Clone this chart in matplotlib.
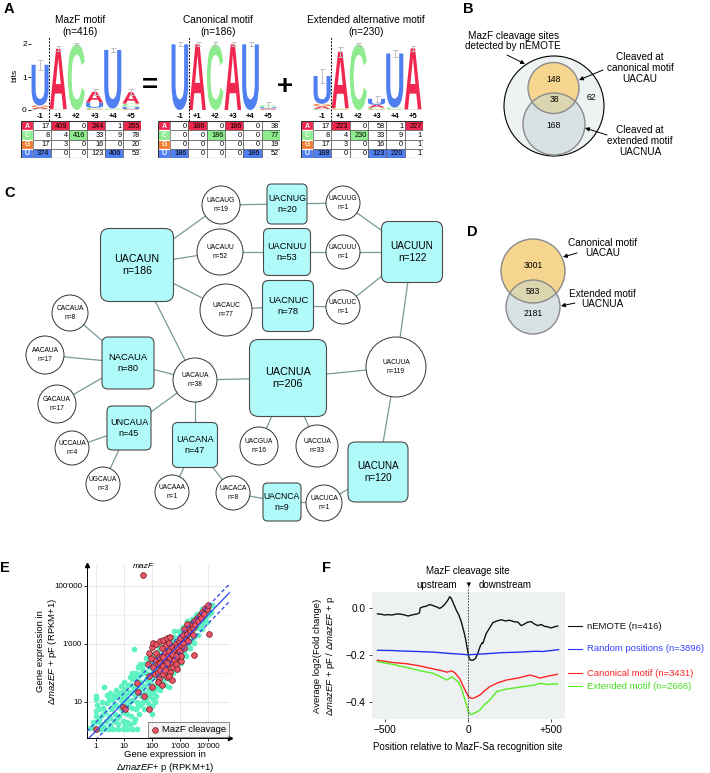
import numpy as np
import matplotlib
matplotlib.use('Agg')
import matplotlib.pyplot as plt
from matplotlib.patches import Rectangle, Circle, FancyBboxPatch, PathPatch
from matplotlib.textpath import TextPath
from matplotlib.font_manager import FontProperties
from matplotlib.transforms import Affine2D, blended_transform_factory
from matplotlib.ticker import NullLocator, NullFormatter

plt.rcParams['font.family'] = ['Liberation Sans', 'DejaVu Sans']
plt.rcParams['mathtext.fontset'] = 'custom'
plt.rcParams['mathtext.rm'] = 'Liberation Sans'
plt.rcParams['mathtext.it'] = 'Liberation Sans:italic'

# ---------------- A: motif count tables ----------------
bases = ['A', 'C', 'G', 'U']
positions = ['-1', '+1', '+2', '+3', '+4', '+5']

mazf_counts = [[17, 409, 0, 244, 1, 265],
               [8, 4, 416, 33, 9, 78],
               [17, 3, 0, 16, 0, 20],
               [374, 0, 0, 123, 406, 53]]
canon_counts = [[0, 186, 0, 186, 0, 38],
                [0, 0, 186, 0, 0, 77],
                [0, 0, 0, 0, 0, 19],
                [186, 0, 0, 0, 186, 52]]
ext_counts = [[17, 223, 0, 58, 1, 227],
              [8, 4, 230, 33, 9, 1],
              [17, 3, 0, 16, 0, 1],
              [188, 0, 0, 123, 220, 1]]
# error bars read from the logos (bits)
mazf_err = [0.15, 0.08, 0.05, 0.09, 0.07, 0.09]
canon_err = [0.06, 0.06, 0.06, 0.06, 0.06, 0.10]
ext_err = [0.20, 0.15, 0.05, 0.10, 0.10, 0.07]
# highlighted table cells (row, column)
mazf_marks = [(0, 1), (0, 3), (0, 5), (1, 2), (3, 0), (3, 4)]
canon_marks = [(0, 1), (0, 3), (1, 2), (1, 5), (3, 0), (3, 4)]
ext_marks = [(0, 1), (0, 5), (1, 2), (3, 0), (3, 3), (3, 4)]

# ---------------- B / D: Venn counts ----------------
venn_b = [148, 38, 168, 62]     # canonical only, both, extended only, neither
venn_d = [3001, 583, 2181]      # canonical only, both, extended only

# ---------------- C: motif network ----------------
node_names = ['UACAUN', 'UACAUG', 'UACNUG', 'UACUUG', 'UACAUU', 'UACNUU', 'UACUUU',
              'UACAUC', 'UACNUC', 'UACUUC', 'UACUUN', 'CACAUA', 'AACAUA', 'GACAUA',
              'NACAUA', 'UACAUA', 'UNCAUA', 'UCCAUA', 'UGCAUA', 'UACANA', 'UACAAA',
              'UACACA', 'UACNCA', 'UACUCA', 'UACNUA', 'UACGUA', 'UACCUA', 'UACUUA', 'UACUNA']
node_n = [186, 19, 20, 1, 52, 53, 1, 77, 78, 1, 122, 8, 17, 17,
          80, 38, 45, 4, 3, 47, 1, 8, 9, 1, 206, 16, 33, 119, 120]
net_edges = [('UACAUN', 'UACAUG'), ('UACAUN', 'UACAUU'), ('UACAUN', 'UACAUC'), ('UACAUN', 'UACAUA'),
             ('UACAUG', 'UACNUG'), ('UACNUG', 'UACUUG'), ('UACUUG', 'UACUUN'),
             ('UACAUU', 'UACNUU'), ('UACNUU', 'UACUUU'), ('UACUUU', 'UACUUN'),
             ('UACAUC', 'UACNUC'), ('UACNUC', 'UACUUC'), ('UACUUC', 'UACUUN'),
             ('UACUUN', 'UACUUA'), ('CACAUA', 'NACAUA'), ('AACAUA', 'NACAUA'),
             ('GACAUA', 'NACAUA'), ('NACAUA', 'UACAUA'), ('UACAUA', 'UNCAUA'),
             ('UACAUA', 'UACANA'), ('UACAUA', 'UACNUA'), ('UNCAUA', 'UCCAUA'),
             ('UNCAUA', 'UGCAUA'), ('UACANA', 'UACAAA'), ('UACANA', 'UACACA'),
             ('UACACA', 'UACNCA'), ('UACNCA', 'UACUCA'), ('UACUCA', 'UACUNA'),
             ('UACNUA', 'UACGUA'), ('UACNUA', 'UACCUA'), ('UACNUA', 'UACUUA'),
             ('UACUUA', 'UACUNA')]
# layout: centre x, centre y (pixels), box width or circle radius
net_layout = {
    'UACAUN': (137, 265, 73), 'UACAUG': (221, 205, 19), 'UACNUG': (287, 204, 40),
    'UACUUG': (343, 203, 17), 'UACAUU': (220, 252, 23), 'UACNUU': (287, 252, 47),
    'UACUUU': (343, 252, 17), 'UACAUC': (226, 310, 26), 'UACNUC': (288, 306, 51),
    'UACUUC': (343, 307, 17), 'UACUUN': (412, 252, 61), 'CACAUA': (70, 313, 18),
    'AACAUA': (45, 355, 19), 'GACAUA': (57, 404, 19), 'NACAUA': (128, 363, 52),
    'UACAUA': (195, 380, 22), 'UNCAUA': (129, 428, 44), 'UCCAUA': (72, 448, 17),
    'UGCAUA': (103, 484, 17), 'UACANA': (195, 445, 45), 'UACAAA': (172, 492, 17),
    'UACACA': (233, 493, 17), 'UACNCA': (282, 502, 38), 'UACUCA': (324, 503, 18),
    'UACNUA': (288, 378, 77), 'UACGUA': (259, 446, 19), 'UACCUA': (317, 446, 21),
    'UACUUA': (396, 367, 30), 'UACUNA': (378, 472, 60),
}

# ---------------- E: gene expression (log10 RPKM+1) ----------------
gene_pts = [
    (0.0, 0.05), (0.15, 0.06), (0.3, 0.05), (0.48, 0.07), (0.6, 0.05), (0.78, 0.06), (0.95, 0.05),
    (1.1, 0.07), (1.3, 0.06), (1.45, 0.05), (0.0, 0.3), (0.02, 0.5), (0.0, 0.7), (0.03, 0.9),
    (0.0, 1.1), (0.02, 1.2), (-0.15, 0.15), (-0.1, 0.3), (-0.2, 0.1),
    (0.18, 0.25), (0.22, 0.55), (0.25, 0.8), (0.2, 1.0), (0.35, 0.35), (0.32, 0.65), (0.4, 0.95),
    (0.38, 1.25), (0.5, 0.2), (0.52, 0.45), (0.55, 0.75), (0.58, 1.05), (0.5, 1.3), (0.65, 0.35),
    (0.68, 0.6), (0.7, 0.9), (0.66, 1.15), (0.72, 1.4), (0.8, 0.25), (0.82, 0.5), (0.85, 0.8),
    (0.88, 1.05), (0.83, 1.3), (0.9, 1.55), (0.95, 0.35), (0.97, 0.65), (1.0, 0.95), (0.98, 1.2),
    (1.02, 1.45), (1.0, 1.7), (1.1, 0.3), (1.12, 0.6), (1.15, 0.85), (1.1, 1.1), (1.18, 1.35),
    (1.15, 1.6), (1.2, 1.85), (1.25, 0.5), (1.28, 0.8), (1.3, 1.05), (1.26, 1.3), (1.32, 1.55),
    (1.3, 1.8), (1.28, 2.0), (1.4, 0.4), (1.42, 0.75), (1.45, 1.0), (1.4, 1.25), (1.48, 1.5),
    (1.45, 1.75), (1.42, 2.0), (1.5, 2.2), (1.55, 0.6), (1.58, 0.9), (1.6, 1.2), (1.55, 1.45),
    (1.62, 1.7), (1.6, 1.95), (1.58, 2.3), (1.7, 0.75), (1.72, 1.05), (1.75, 1.3), (1.7, 1.55),
    (1.78, 1.8), (1.75, 2.05), (1.72, 2.3), (1.8, 2.5), (1.85, 0.95), (1.88, 1.2), (1.9, 1.45),
    (1.85, 1.7), (1.92, 1.95), (1.9, 2.2), (1.88, 2.45), (1.95, 2.65), (2.0, 0.85), (2.02, 1.1),
    (2.05, 1.35), (2.0, 1.6), (2.08, 1.85), (2.05, 2.1), (2.02, 2.35), (2.1, 2.6), (2.15, 1.2),
    (2.18, 1.45), (2.2, 1.7), (2.15, 1.95), (2.22, 2.2), (2.2, 2.45), (2.18, 2.7), (2.25, 2.85),
    (2.3, 1.4), (2.32, 1.65), (2.35, 1.9), (2.3, 2.15), (2.38, 2.4), (2.35, 2.65), (2.32, 2.9),
    (2.45, 1.6), (2.48, 1.85), (2.5, 2.1), (2.45, 2.35), (2.52, 2.6), (2.5, 2.85), (2.48, 3.05),
    (2.6, 1.8), (2.62, 2.05), (2.65, 2.3), (2.6, 2.55), (2.68, 2.8), (2.65, 3.05), (2.62, 3.25),
    (2.75, 2.0), (2.78, 2.25), (2.8, 2.5), (2.75, 2.75), (2.82, 3.0), (2.8, 3.25), (2.78, 3.45),
    (2.9, 2.2), (2.92, 2.45), (2.95, 2.7), (2.9, 2.95), (2.98, 3.2), (2.95, 3.45), (3.05, 2.35),
    (3.08, 2.6), (3.1, 2.85), (3.05, 3.1), (3.12, 3.35), (3.1, 3.6), (3.2, 2.6), (3.22, 2.85),
    (3.25, 3.1), (3.2, 3.35), (3.28, 3.6), (3.25, 3.8), (3.35, 2.85), (3.38, 3.1), (3.4, 3.35),
    (3.35, 3.6), (3.42, 3.85), (3.5, 3.05), (3.52, 3.3), (3.55, 3.55), (3.5, 3.8), (3.58, 4.0),
    (3.65, 3.3), (3.68, 3.55), (3.7, 3.8), (3.65, 4.05), (3.8, 3.5), (3.82, 3.75), (3.85, 4.0),
    (3.8, 4.2), (3.95, 3.75), (3.98, 4.0), (4.0, 4.25), (4.1, 4.1), (4.15, 4.35),
    (1.36, 2.83), (0.3, 1.5), (2.0, 0.6), (2.6, 1.5),
    (0.1, 0.4), (0.12, 0.75), (0.28, 0.15), (0.45, 0.5), (0.45, 1.1), (0.6, 0.85), (0.62, 1.25),
    (0.75, 0.45), (0.75, 1.2), (0.92, 0.9), (0.93, 1.35), (1.05, 0.2), (1.05, 1.25), (1.22, 0.25),
    (1.22, 1.0), (1.22, 1.6), (1.35, 0.3), (1.35, 1.4), (1.35, 1.9), (1.5, 0.85), (1.5, 1.9),
    (1.65, 0.95), (1.65, 1.45), (1.65, 2.15), (1.8, 1.1), (1.8, 2.0), (1.97, 1.3), (1.97, 1.8),
    (1.97, 2.3), (2.1, 1.0), (2.1, 1.5), (2.12, 2.25), (2.27, 1.55), (2.27, 2.0), (2.27, 2.6),
    (2.4, 1.75), (2.4, 2.75), (2.55, 2.0), (2.55, 2.8), (2.7, 2.1), (2.7, 3.1), (2.85, 2.15),
    (2.85, 2.75), (3.0, 2.5), (3.0, 3.35), (3.15, 2.7), (3.15, 3.2), (3.3, 2.95), (3.3, 3.75),
    (3.45, 3.2), (3.6, 3.6), (3.75, 3.65), (3.9, 3.9), (4.05, 4.05),
]
cleaved_pts = [
    (2.05, 2.2), (2.1, 2.45), (2.1, 1.95), (2.15, 2.7), (2.2, 2.3), (2.2, 2.05), (2.25, 2.55),
    (2.25, 1.8), (2.3, 2.35), (2.3, 2.1), (2.35, 2.6), (2.35, 2.85), (2.4, 2.25), (2.4, 1.95),
    (2.45, 2.45), (2.45, 2.7), (2.5, 2.15), (2.5, 2.4), (2.5, 2.95), (2.55, 2.6), (2.55, 1.85),
    (2.6, 2.3), (2.6, 2.75), (2.65, 2.5), (2.65, 2.05), (2.7, 2.9), (2.7, 2.35), (2.75, 2.6),
    (2.75, 2.2), (2.8, 2.8), (2.8, 2.45), (2.85, 3.0), (2.85, 2.3), (2.9, 2.65), (2.9, 2.9),
    (2.95, 2.5), (2.95, 3.1), (3.0, 2.75), (3.0, 3.2), (3.05, 2.95), (3.05, 2.4), (3.1, 3.05),
    (3.1, 3.3), (3.15, 2.85), (3.2, 3.2), (3.2, 3.45), (3.25, 3.35), (3.3, 3.55), (3.3, 3.1),
    (3.35, 3.45), (3.4, 3.7), (3.45, 3.55), (3.5, 3.8), (3.55, 3.65), (3.6, 3.9), (3.65, 3.8),
    (3.7, 4.0), (3.75, 3.9), (3.8, 4.1), (3.85, 4.05), (3.9, 4.25), (3.95, 4.2), (4.0, 4.35),
    (3.25, 3.7), (3.45, 3.3), (3.15, 3.5), (1.95, 2.5), (2.0, 2.9), (2.05, 3.05), (2.15, 3.0),
    (2.3, 3.1), (2.4, 3.15), (2.55, 3.2), (2.65, 3.25), (2.2, 1.7), (2.35, 1.6), (2.6, 1.9),
    (2.7, 1.75), (2.9, 2.15), (3.05, 2.6), (2.45, 2.1), (2.55, 2.35), (2.7, 2.65), (2.4, 2.55),
    (2.6, 3.05), (2.85, 2.6), (2.0, 1.5), (1.9, 1.9), (1.85, 2.3), (0.96, 0.83), (1.05, 0.75),
    (1.89, 0.76), (1.5, 1.34), (1.45, 1.66), (1.7, 1.2), (0.0, 0.07), (4.04, 3.34), (3.5, 2.62),
    (1.9, 2.7),
]
mazf_gene = (1.68, 5.38)

# ---------------- F: average log2 fold change around sites ----------------
nemote_pos = [-545, -520, -500, -480, -460, -440, -420, -400, -380, -360, -340, -320, -300, -292,
              -288, -270, -250, -230, -210, -190, -170, -150, -135, -120, -110, -100, -85, -70,
              -55, -40, -25, -15, -5, 5, 15, 30, 45, 60, 75, 85, 90, 95, 110, 130, 150, 175, 200,
              225, 250, 275, 300, 320, 340, 360, 380, 400, 420, 440, 460, 480, 500, 520, 540]
nemote_val = [-0.025, -0.027, -0.030, -0.028, -0.030, -0.027, -0.025, -0.027, -0.030, -0.034,
              -0.030, -0.027, -0.024, -0.020, 0.000, 0.005, 0.008, 0.015, 0.010, 0.005, -0.002,
              0.008, 0.020, 0.035, 0.048, 0.040, 0.015, -0.010, -0.030, -0.060, -0.100, -0.130,
              -0.170, -0.210, -0.222, -0.222, -0.215, -0.190, -0.160, -0.148, -0.150, -0.138,
              -0.108, -0.085, -0.062, -0.055, -0.050, -0.055, -0.052, -0.058, -0.060, -0.075,
              -0.068, -0.060, -0.058, -0.068, -0.075, -0.070, -0.078, -0.080, -0.085, -0.080,
              -0.077]
random_pos = [-545, -450, -400, -300, -200, -100, -50, 0, 50, 100, 200, 300, 400, 450, 545]
random_val = [-0.180, -0.181, -0.183, -0.185, -0.188, -0.194, -0.196, -0.199, -0.197, -0.195,
              -0.190, -0.188, -0.184, -0.185, -0.177]
canon_pos = [-545, -450, -370, -300, -209, -150, -128, -110, -98, -80, -68, -50, -28, -10, 2,
             15, 32, 50, 72, 100, 132, 180, 233, 300, 373, 400, 433, 480, 538]
canon_val = [-0.222, -0.232, -0.237, -0.245, -0.259, -0.268, -0.273, -0.270, -0.267, -0.275,
             -0.285, -0.300, -0.334, -0.360, -0.376, -0.383, -0.384, -0.378, -0.370, -0.352,
             -0.334, -0.318, -0.306, -0.298, -0.285, -0.290, -0.298, -0.290, -0.282]
ext_pos = [-545, -450, -370, -300, -209, -150, -128, -110, -98, -80, -58, -40, -28, -10, 2,
           12, 22, 45, 72, 100, 132, 173, 230, 280, 333, 400, 433, 480, 538]
ext_val = [-0.228, -0.240, -0.253, -0.265, -0.278, -0.298, -0.306, -0.298, -0.293, -0.302,
           -0.315, -0.340, -0.369, -0.410, -0.440, -0.452, -0.452, -0.445, -0.434, -0.410,
           -0.391, -0.355, -0.345, -0.340, -0.334, -0.328, -0.320, -0.325, -0.323]
series_labels = ['nEMOTE (n=416)', 'Random positions (n=3896)',
                 'Canonical motif (n=3431)', 'Extended motif (n=2666)']

BASE_COLORS = {'A': '#f0284f', 'C': '#8eec8e', 'G': '#f47c30', 'U': '#4f7ff0'}
LOGO_FONT = FontProperties(family='Liberation Sans', weight='bold')

W, H = 710, 773
fig = plt.figure(figsize=(W / 100, H / 100), dpi=100)

# full-figure pixel canvas for diagrams and labels
ax0 = fig.add_axes([0, 0, 1, 1])
ax0.set_xlim(0, W)
ax0.set_ylim(H, 0)
ax0.axis('off')


def px_axes(x0, y0, x1, y1):
    return fig.add_axes([x0 / W, 1 - y1 / H, (x1 - x0) / W, (y1 - y0) / H])


def draw_letter(ax, ch, x, y, w, h):
    tp = TextPath((0, 0), ch, size=1, prop=LOGO_FONT)
    bb = tp.get_extents()
    tr = (Affine2D().translate(-bb.x0, -bb.y0)
          .scale(w / bb.width, h / bb.height).translate(x - w / 2, y))
    ax.add_patch(PathPatch(tr.transform_path(tp), fc=BASE_COLORS[ch], ec='none'))


def draw_logo(ax, counts, errs, show_axis):
    counts = np.array(counts, float)
    n = counts[:, 0].sum()
    freqs = counts / counts.sum(axis=0)
    logs = np.log2(np.where(freqs > 0, freqs, 1))
    ent = -(freqs * logs).sum(axis=0)
    info = 2 - ent - 3 / (2 * np.log(2) * n)
    for j in range(counts.shape[1]):
        y = 0
        for i in np.argsort(freqs[:, j]):
            h = freqs[i, j] * info[j]
            if h > 0.002:
                draw_letter(ax, bases[i], j, y, 0.94, h)
            y += h
        ax.errorbar(j, y, yerr=errs[j], color='#c0c0c0', capsize=1.8, lw=0.7, capthick=0.7)
    ax.set_xlim(-0.5, 5.5)
    ax.set_ylim(0, 2.1)
    ax.set_facecolor('none')
    for s in ax.spines.values():
        s.set_visible(False)
    ax.set_xticks(range(6))
    ax.set_xticklabels(positions, fontsize=5.5, fontweight='bold')
    ax.tick_params(axis='x', length=0, pad=2)
    if show_axis:
        ax.set_yticks([0, 1, 2])
        ax.tick_params(axis='y', labelsize=6, length=2, width=0.6, pad=1)
        ax.set_ylabel('bits', fontsize=6, labelpad=3)
    else:
        ax.set_yticks([])
    ax.plot([0.5, 0.5], [-0.33, 2.2], color='k', lw=0.7, ls=(0, (2, 1.5)), clip_on=False)


def draw_table(ax, counts, marks, letter_px, total_px):
    colw = (total_px - letter_px) / 6
    lw = letter_px / colw
    ax.set_xlim(-0.5 - lw, 5.5)
    ax.set_ylim(4, 0)
    ax.axis('off')
    for i, b in enumerate(bases):
        ax.add_patch(Rectangle((-0.5 - lw, i), lw, 1, fc=BASE_COLORS[b], ec='white', lw=0.8))
        ax.text(-0.5 - lw / 2, i + 0.55, b, color='white', fontsize=5, fontweight='bold',
                ha='center', va='center')
        for j, v in enumerate(counts[i]):
            fc = BASE_COLORS[b] if (i, j) in marks else 'white'
            ax.add_patch(Rectangle((j - 0.5, i), 1, 1, fc=fc, ec='#5a5a5a', lw=0.5))
            ax.text(j + 0.42, i + 0.55, str(v), fontsize=5.3, ha='right', va='center')
    ax.add_patch(Rectangle((-0.5 - lw, 0), 6 + lw, 4, fc='none', ec='#333333', lw=0.8))


# ---------------- panel A ----------------
motifs = [('MazF motif\n(n=416)', 80, mazf_counts, mazf_err, mazf_marks, (31, 140), (21, 141)),
          ('Canonical motif\n(n=186)', 218, canon_counts, canon_err, canon_marks, (171, 277), (158, 280)),
          ('Extended alternative motif\n(n=230)', 366, ext_counts, ext_err, ext_marks, (313, 422), (301, 423))]
for k, (title, tx, cnt, err, marks, (lx0, lx1), (tx0, tx1)) in enumerate(motifs):
    ax0.text(tx, 26, title, ha='center', va='center', fontsize=7.3, linespacing=1.2)
    axl = px_axes(lx0, 40.7, lx1, 110)
    draw_logo(axl, cnt, err, k == 0)
    axt = px_axes(tx0, 121, tx1, 158)
    draw_table(axt, cnt, marks, 12, tx1 - tx0)
ax0.text(150, 86, '=', fontsize=20, fontweight='bold', ha='center', va='center')
ax0.text(285, 87, '+', fontsize=20, fontweight='bold', ha='center', va='center')

# ---------------- panel B ----------------
big = Circle((554, 106), 50, fc='#eef2f2', ec='black', lw=0.8)
can_c = Circle((553.5, 88), 25.5, fc='#f6d68e', ec='none')
ext_c = Circle((554, 124), 31, fc='#d8e1e4', ec='none')
for p in (big, can_c, ext_c):
    ax0.add_patch(p)
ov = Circle((553.5, 88), 25.5, fc='#dcd6b0', ec='none')
ax0.add_patch(ov)
ov.set_clip_path(ext_c)
ax0.add_patch(Circle((553.5, 88), 25.5, fc='none', ec='#8a8a8a', lw=1))
ax0.add_patch(Circle((554, 124), 31, fc='none', ec='#8a8a8a', lw=1))
for v, (x, y) in zip(venn_b, [(554, 79), (554, 100), (554, 126), (591, 98)]):
    ax0.text(x, y, str(v), ha='center', va='center', fontsize=6.2)
ax0.text(513, 41, 'MazF cleavage sites\ndetected by nEMOTE', ha='center', va='center',
         fontsize=7.2, linespacing=1.1)
ax0.text(640, 68, 'Cleaved at\ncanonical motif\nUACAU', ha='center', va='center',
         fontsize=7.2, linespacing=1.1)
ax0.text(640, 141, 'Cleaved at\nextended motif\nUACNUA', ha='center', va='center',
         fontsize=7.2, linespacing=1.1)
arrow = dict(arrowstyle='-|>', color='k', lw=0.7, mutation_scale=6, shrinkA=0, shrinkB=0)
ax0.annotate('', xy=(525, 64), xytext=(507, 55), arrowprops=arrow)
ax0.annotate('', xy=(579, 80), xytext=(603, 70), arrowprops=arrow)
ax0.annotate('', xy=(585, 128), xytext=(607, 135), arrowprops=arrow)

# ---------------- panel D ----------------
ax0.add_patch(Circle((533, 271), 32, fc='#f6d68e', ec='none'))
d_ext = Circle((533, 307), 27, fc='#d8e1e4', ec='none')
ax0.add_patch(d_ext)
d_ov = Circle((533, 271), 32, fc='#dcd6b0', ec='none')
ax0.add_patch(d_ov)
d_ov.set_clip_path(d_ext)
ax0.add_patch(Circle((533, 271), 32, fc='none', ec='#8a8a8a', lw=1))
ax0.add_patch(Circle((533, 307), 27, fc='none', ec='#8a8a8a', lw=1))
for v, (x, y) in zip(venn_d, [(533, 265), (533, 292), (533, 314)]):
    ax0.text(x, y, str(v), ha='center', va='center', fontsize=6.2)
ax0.text(603, 248, 'Canonical motif\nUACAU', ha='center', va='center', fontsize=7.2, linespacing=1.05)
ax0.text(602, 299, 'Extended motif\nUACNUA', ha='center', va='center', fontsize=7.2, linespacing=1.05)
ax0.annotate('', xy=(563, 257), xytext=(577, 253), arrowprops=arrow)
ax0.annotate('', xy=(561, 306), xytext=(575, 303), arrowprops=arrow)

# ---------------- panel C ----------------
for a, b in net_edges:
    xa, ya, _ = net_layout[a]
    xb, yb, _ = net_layout[b]
    ax0.plot([xa, xb], [ya, yb], color='#779999', lw=0.9, zorder=1)
for name, n in zip(node_names, node_n):
    cx, cy, sz = net_layout[name]
    if 'N' in name:
        ax0.add_patch(FancyBboxPatch((cx - sz / 2, cy - sz / 2), sz, sz,
                                     boxstyle=f'round,pad=0,rounding_size={sz * 0.12:.1f}',
                                     fc='#b0fafa', ec='#4a4a4a', lw=0.8, zorder=2))
        ax0.text(cx, cy, f'{name}\nn={n}', ha='center', va='center', fontsize=4.6 + 0.042 * sz,
                 linespacing=1.2, zorder=3)
    else:
        ax0.add_patch(Circle((cx, cy), sz, fc='white', ec='#333333', lw=0.7, zorder=2))
        ax0.text(cx, cy, f'{name}\nn={n}', ha='center', va='center', fontsize=4.8,
                 linespacing=1.3, zorder=3)

# ---------------- panel letters ----------------
for lab, x, y in [('A', 4, 2), ('B', 463, 2), ('C', 4, 186), ('D', 467, 225),
                  ('E', 0, 561), ('F', 322, 561)]:
    ax0.text(x, y, lab, fontsize=10.5, fontweight='bold', va='top', ha='left')

# ---------------- panel E ----------------
axE = px_axes(87, 565, 230, 738)
axE.set_xscale('log')
axE.set_yscale('log')
axE.set_xlim(0.48, 61000)
axE.set_ylim(0.57, 5.3e5)
g = np.array(gene_pts)
c = np.array(cleaved_pts)
axE.scatter(10 ** g[:, 0], 10 ** g[:, 1], s=17, c='#5df2c2', lw=0, zorder=2)
axE.scatter(10 ** c[:, 0], 10 ** c[:, 1], s=17, c='#ec5566', edgecolors='#6a1a22', lw=0.5,
            zorder=3, label='MazF cleavage')
axE.scatter([10 ** mazf_gene[0]], [10 ** mazf_gene[1]], s=17, c='#ec5566', edgecolors='#6a1a22',
            lw=0.5, zorder=3)
axE.annotate('mazF', (10 ** mazf_gene[0], 10 ** mazf_gene[1]), xytext=(0, 3.5),
             textcoords='offset points', ha='center', va='bottom', fontsize=6, style='italic')
diag = np.array([0.48, 61000])
axE.plot(diag, diag, color='#2f45e8', lw=0.9, zorder=4)
axE.plot(diag, diag * 2, color='#2f45e8', lw=0.9, ls=(0, (3, 2)), zorder=4)
axE.plot(diag, diag / 2, color='#2f45e8', lw=0.9, ls=(0, (3, 2)), zorder=4)
axE.set_xticks([1, 10, 100, 1000, 10000])
axE.set_xticklabels(['1', '10', '100', "1'000", "10'000"])
axE.set_yticks([10, 1000, 100000])
axE.set_yticklabels(['10', "1'000", "100'000"])
axE.xaxis.set_minor_locator(NullLocator())
axE.set_yticks([1, 100, 10000], minor=True)
axE.yaxis.set_minor_formatter(NullFormatter())
axE.tick_params(which='major', labelsize=5.8, length=2, width=0.6, pad=1.5)
axE.tick_params(which='minor', length=0)
axE.set_axisbelow(True)
axE.grid(which='major', color='#e4e4e4', lw=0.6)
axE.grid(which='minor', axis='y', color='#f0f0f0', lw=0.5)
axE.spines[['top', 'right']].set_visible(False)
axE.spines[['left', 'bottom']].set_linewidth(0.7)
axE.plot(0, 1, '^', color='k', ms=3, transform=axE.transAxes, clip_on=False)
axE.plot(1, 0, '>', color='k', ms=3, transform=axE.transAxes, clip_on=False)
leg = axE.legend(loc='lower right', fontsize=6.8, frameon=True, handletextpad=0.2,
                 borderpad=0.3, borderaxespad=0.1, fancybox=False, handlelength=1)
leg.get_frame().set_facecolor('#f0f0f0')
leg.get_frame().set_edgecolor('#555555')
leg.get_frame().set_linewidth(0.6)
axE.text(-0.276, 0.5, 'Gene expression in\n\u0394$\\it{mazEF}$ + pF (RPKM+1)', rotation=90,
         ha='center', va='center', fontsize=6.8, transform=axE.transAxes)
axE.text(0.545, -0.139, 'Gene expression in\n\u0394$\\it{mazEF}$+ p (RPKM+1)',
         ha='center', va='center', fontsize=6.8, transform=axE.transAxes)

# ---------------- panel F ----------------
axF = px_axes(372, 592, 565, 719)
axF.set_facecolor('#eef1f1')
for s in axF.spines.values():
    s.set_visible(False)
axF.set_xlim(-578, 584)
axF.set_ylim(-0.472, 0.068)
series = [(nemote_pos, nemote_val, '#111111', '#111111'),
          (random_pos, random_val, '#2233ee', '#3344ff'),
          (canon_pos, canon_val, '#ff2222', '#ff2222'),
          (ext_pos, ext_val, '#55ee22', '#44dd22')]
label_y = [-0.077, -0.174, -0.277, -0.332]   # legend rows beside the line ends
bt = blended_transform_factory(axF.transAxes, axF.transData)
for (xs, ys, col, tcol), lab, ly in zip(series, series_labels, label_y):
    axF.plot(xs, ys, color=col, lw=1.0)
    axF.plot([1.016, 1.088], [ly, ly], color=col, lw=0.8, transform=bt, clip_on=False)
    axF.text(1.114, ly, lab, color=tcol, fontsize=6.8, va='center', transform=bt)
axF.axvline(0, ymin=0, ymax=1.04, color='#333333', lw=0.6, ls=(0, (2, 1.5)), clip_on=False)
axF.set_xticks([-500, 0, 500])
axF.set_xticklabels(['\u2212500', '0', '+500'])
axF.set_yticks([0, -0.2, -0.4])
axF.set_yticklabels(['0.0', '\u22120.2', '\u22120.4'])
axF.tick_params(labelsize=7.3, length=2.5, width=0.6, color='#333333', pad=2)
bx = blended_transform_factory(axF.transData, axF.transAxes)
axF.text(0, 1.165, 'MazF cleavage site', ha='center', va='center', fontsize=7, transform=bx)
axF.text(-187, 1.055, 'upstream', ha='center', va='center', fontsize=7, transform=bx)
axF.text(0, 1.055, '\u25bc', ha='center', va='center', fontsize=5.5, transform=bx)
axF.text(223, 1.055, 'downstream', ha='center', va='center', fontsize=7, transform=bx)
axF.text(-0.244, 0.5, 'Average log2(Fold change)\n\u0394$\\it{mazEF}$ + pF / \u0394$\\it{mazEF}$ + p',
         rotation=90, ha='center', va='center', fontsize=6.8, transform=axF.transAxes)
axF.text(0, -0.22, 'Position relative to MazF-Sa recognition site', ha='center', va='center',
         fontsize=7, transform=bx)

fig.savefig('out.png', dpi=100)
